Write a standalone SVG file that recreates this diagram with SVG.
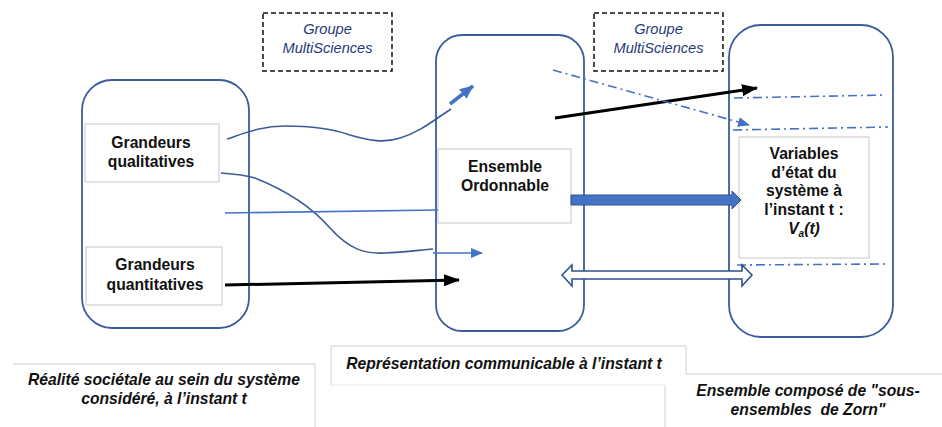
<svg xmlns="http://www.w3.org/2000/svg" width="942" height="427" viewBox="0 0 942 427">
<defs>
<style>
.node{fill:#fff;stroke:#3b5c9c;stroke-width:1.8}
.tbox{fill:#fff;stroke:#c6c6c6;stroke-width:1}
.grp{fill:#fff;stroke:#111;stroke-width:1.5;stroke-dasharray:5 3}
.t{font-family:"Liberation Sans",Arial,sans-serif;font-weight:bold;font-size:15.7px;fill:#111;text-anchor:middle}
.gt{font-family:"Liberation Sans",Arial,sans-serif;font-style:italic;font-size:14.6px;fill:#1f3a78;text-anchor:middle}
.bt{font-family:"Liberation Sans",Arial,sans-serif;font-style:italic;font-weight:bold;font-size:15.7px;fill:#111;text-anchor:middle}
.lab{fill:none;stroke:#cfcfcf;stroke-width:1}
.curve{fill:none;stroke:#3a5a9a;stroke-width:1.6}
.lb{fill:none;stroke:#4472c4;stroke-width:1.6}
.blk{fill:none;stroke:#000;stroke-width:3}
.dd{fill:none;stroke:#4472c4;stroke-width:1.6;stroke-dasharray:9 4 2 4}
</style>
<marker id="ahBlue" markerUnits="userSpaceOnUse" markerWidth="14" markerHeight="12" viewBox="0 0 14 12" refX="13" refY="6" orient="auto"><path d="M0,0 L14,6 L0,12 z" fill="#4472c4"/></marker>
<marker id="ahBlueS" markerUnits="userSpaceOnUse" markerWidth="12" markerHeight="10" viewBox="0 0 12 10" refX="11" refY="5" orient="auto"><path d="M0,0 L12,5 L0,10 z" fill="#4472c4"/></marker>
<marker id="ahBlk" markerUnits="userSpaceOnUse" markerWidth="16" markerHeight="12" viewBox="0 0 16 12" refX="15" refY="6" orient="auto"><path d="M0,0 L16,6 L0,12 z" fill="#000"/></marker>
</defs>

<!-- bottom label borders -->
<g id="label-borders">
<path class="lab" d="M13,364 H315 V427"/>
<path class="lab" d="M331,385 V346 H686 V374 H942"/>
<path fill="none" stroke="#ececec" stroke-width="1" d="M331,385 H665"/>
<path class="lab" d="M665,385 V427"/>
</g>

<g id="node-realite">
<rect class="node" x="82" y="80" width="167" height="248" rx="30"/>
</g>
<g id="node-representation">
<rect class="node" x="436" y="35" width="148" height="296" rx="26"/>
</g>
<g id="node-zorn">
<rect class="node" x="729" y="25" width="164" height="312" rx="32"/>
</g>

<g id="group-ms-1">
<rect class="grp" x="263" y="13" width="129" height="58"/>
<text class="gt" x="327.5" y="34">Groupe</text>
<text class="gt" x="327.5" y="53">MultiSciences</text>
</g>
<g id="group-ms-2">
<rect class="grp" x="594" y="13" width="129" height="58"/>
<text class="gt" x="658.5" y="34">Groupe</text>
<text class="gt" x="658.5" y="53">MultiSciences</text>
</g>

<g id="box-qualitatives">
<rect class="tbox" x="85" y="124" width="134" height="58"/>
<text class="t" x="151" y="148">Grandeurs</text>
<text class="t" x="151" y="167">qualitatives</text>
</g>
<g id="box-quantitatives">
<rect class="tbox" x="86" y="247" width="136" height="58"/>
<text class="t" x="155" y="270">Grandeurs</text>
<text class="t" x="155" y="290">quantitatives</text>
</g>
<g id="box-ordonnable">
<rect class="tbox" x="438" y="149" width="133" height="74"/>
<text class="t" x="505" y="172">Ensemble</text>
<text class="t" x="505" y="191">Ordonnable</text>
</g>
<g id="box-variables">
<rect class="tbox" x="739" y="137" width="130" height="121"/>
<text class="t" x="804" y="159">Variables</text>
<text class="t" x="804" y="178">d’état du</text>
<text class="t" x="804" y="196">système à</text>
<text class="t" x="804" y="215">l’instant t :</text>
<text class="t" x="804" y="234" font-style="italic">V<tspan font-size="10" dy="3">a</tspan><tspan dy="-3">(t)</tspan></text>
</g>

<g id="connectors">
<path class="curve" d="M227,139 C245,133 262,126 285,126 C310,126 330,128 350,135 C370,141 385,143 400,138 C420,132 434,120 451,109"/>
<path fill="none" stroke="#4472c4" stroke-width="3.5" d="M450,104 L473,86" marker-end="url(#ahBlue)"/>
<path class="curve" d="M221,173 C235,174 245,175 255,178 C285,190 310,205 330,228 C350,250 365,254 385,253 C405,252 420,250 433,249"/>
<path class="lb" d="M433,253 L482,253" marker-end="url(#ahBlueS)"/>
<path class="lb" d="M225,213 L438,210"/>
<path class="blk" d="M225,285 L459,280" marker-end="url(#ahBlk)"/>
<path class="blk" d="M555,118 L757,88" marker-end="url(#ahBlk)"/>
<path class="dd" d="M553,70 L749,125" marker-end="url(#ahBlueS)"/>
<path class="dd" d="M734,98 L885,95"/>
<path class="dd" d="M733,130 L888,127"/>
<path class="dd" d="M737,265 L885,264"/>
<path fill="#4472c4" stroke="#2f528f" stroke-width="1" d="M571,195 H732 V191 L741,200 L732,209 V205 H571 z"/>
<path fill="#fff" stroke="#2f528f" stroke-width="1.6" d="M562,275 L572,265 V271 H742 V265 L752,275 L742,286 V279 H572 V286 z"/>
</g>

<g id="labels">
<text class="bt" x="164" y="385">Réalité sociétale au sein du système</text>
<text class="bt" x="164" y="404">considéré, à l’instant t</text>
<text class="bt" x="504" y="369">Représentation communicable à l’instant t</text>
<text class="bt" x="808" y="396">Ensemble composé de "sous-</text>
<text class="bt" x="808" y="415">ensembles&#160; de Zorn"</text>
</g>
</svg>
